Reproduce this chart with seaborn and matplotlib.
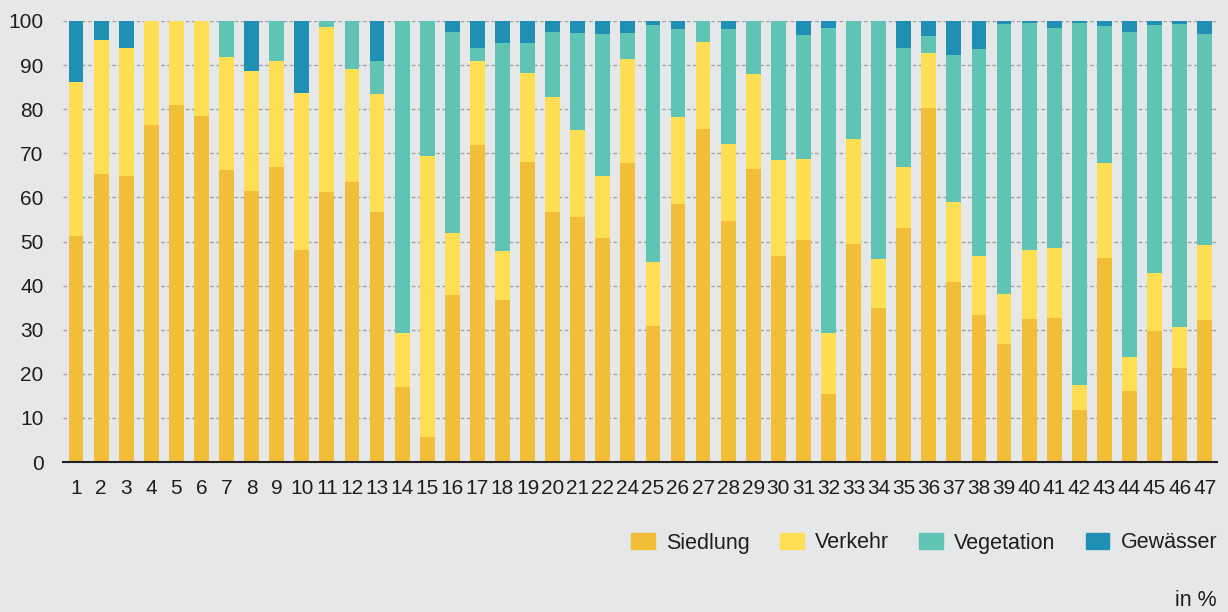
import matplotlib
matplotlib.use("Agg")
import matplotlib.pyplot as plt
import matplotlib.patches as mpatches
import seaborn as sns
import numpy as np


regions = ["1", "2", "3", "4", "5", "6", "7", "8", "9", "10", "11", "12", "13",
           "14", "15", "16", "17", "18", "19", "20", "21", "22", "24", "25", "26",
           "27", "28", "29", "30", "31", "32", "33", "34", "35", "36", "37", "38",
           "39", "40", "41", "42", "43", "44", "45", "46", "47"]

siedlung = [51.2, 65.4, 64.9, 76.4, 81.0, 78.5, 66.2, 61.5, 67.0, 48.1, 61.2, 63.6, 56.7,
            17.1, 5.7, 37.9, 71.9, 36.7, 68.1, 56.8, 55.6, 50.9, 67.7, 30.8, 58.4,
            75.6, 54.7, 66.5, 46.7, 50.3, 15.4, 49.4, 34.9, 53.1, 80.3, 40.8, 33.4,
            26.7, 32.5, 32.7, 11.8, 46.3, 16.1, 29.7, 21.4, 32.1]
verkehr = [34.9, 30.4, 29.0, 23.6, 19.0, 21.5, 25.7, 27.2, 24.0, 35.6, 37.4, 25.6, 26.8,
           12.2, 63.8, 14.1, 19.0, 11.1, 20.0, 25.9, 19.6, 14.0, 23.7, 14.6, 19.8,
           19.6, 17.4, 21.4, 21.8, 18.5, 13.9, 23.9, 11.1, 13.8, 12.5, 18.2, 13.2,
           11.5, 15.6, 15.9, 5.6, 21.6, 7.6, 13.2, 9.3, 17.0]
vegetation = [0.0, 0.0, 0.0, 0.0, 0.0, 0.0, 8.1, 0.0, 9.0, 0.0, 1.4, 10.8, 7.4,
              70.7, 30.5, 45.6, 2.9, 47.2, 6.9, 14.7, 22.0, 32.2, 5.8, 53.8, 20.0,
              4.8, 26.0, 12.1, 31.5, 28.0, 69.1, 26.7, 54.0, 27.0, 3.9, 33.3, 47.1,
              61.2, 51.5, 49.9, 82.1, 31.0, 73.8, 56.1, 68.7, 48.0]
gewaesser = [13.9, 4.2, 6.1, 0.0, 0.0, 0.0, 0.0, 11.3, 0.0, 16.3, 0.0, 0.0, 9.1,
             0.0, 0.0, 2.4, 6.2, 5.0, 5.0, 2.6, 2.8, 2.9, 2.8, 0.8, 1.8,
             0.0, 1.9, 0.0, 0.0, 3.2, 1.6, 0.0, 0.0, 6.1, 3.3, 7.7, 6.3,
             0.6, 0.4, 1.5, 0.5, 1.1, 2.5, 1.0, 0.6, 2.9]

series = ["Siedlung", "Verkehr", "Vegetation", "Gewässer"]
colors = ["#f2be38", "#fede52", "#5fc4b4", "#1f8fb4"]

bg = "#e6e7e9"
sns.set_style("white")
plt.rcParams["font.family"] = ["Liberation Sans", "DejaVu Sans"]

fig = plt.figure(figsize=(12.28, 6.12), dpi=100, facecolor=bg)
ax = fig.add_axes([63 / 1228, 150 / 612, (1217 - 63) / 1228, 441 / 612])
ax.set_facecolor(bg)

# stacked bars: draw cumulative totals from the top layer down
layers = np.array([siedlung, verkehr, vegetation, gewaesser])
cum = np.cumsum(layers, axis=0)
for i in range(3, -1, -1):
    sns.barplot(x=regions, y=cum[i], order=regions, color=colors[i],
                saturation=1, width=0.59, linewidth=0, ax=ax, zorder=3)

ax.set_ylim(0, 100)
ax.set_xlim(-0.52, len(regions) - 0.51)
ax.set_yticks(range(0, 101, 10))
ax.yaxis.grid(True, linestyle=(0, (2.6, 1.8)), color="#a3a3a3", lw=1, zorder=0)
ax.xaxis.grid(False)
for s in ["top", "right", "left"]:
    ax.spines[s].set_visible(False)
ax.spines["bottom"].set_color("#222222")
ax.spines["bottom"].set_linewidth(1.5)
ax.spines["bottom"].set_zorder(4)
ax.tick_params(axis="both", length=0, labelsize=15, colors="#1e1e1e")
ax.tick_params(axis="y", pad=14)
ax.tick_params(axis="x", pad=12)
ax.set_xlabel("")
ax.set_ylabel("")

handles = [mpatches.Patch(color=c, label=l) for c, l in zip(colors, series)]
fig.legend(handles=handles, ncol=4, loc="center right",
           bbox_to_anchor=(1217 / 1228, 1 - 543 / 612), frameon=False,
           fontsize=15.5, handlelength=1.1, handleheight=0.74,
           handletextpad=0.52, columnspacing=1.4, borderpad=0,
           borderaxespad=0, labelcolor="#1e1e1e")

fig.text(1217 / 1228, 1 - 601 / 612, "in %", ha="right", va="center",
         fontsize=15.5, color="#1e1e1e")

fig.savefig("out.png", dpi=100, facecolor=bg)
